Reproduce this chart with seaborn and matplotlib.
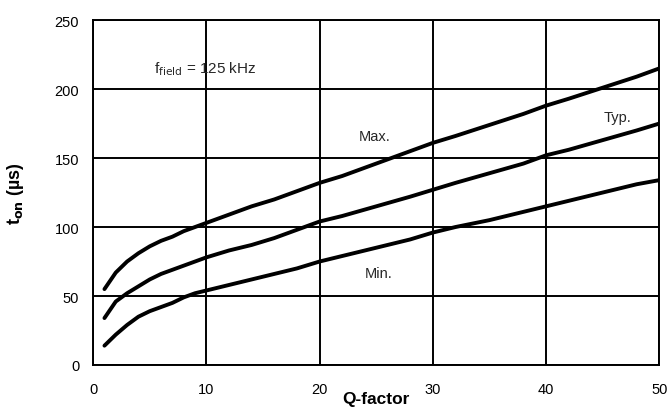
import pandas as pd
import matplotlib.pyplot as plt
import seaborn as sns

# Values
q_factor = [1, 2, 3, 4, 5, 6, 7, 8, 9, 10, 12, 14, 16, 18, 20, 22, 25, 28,
            30, 32, 35, 38, 40, 42, 45, 48, 50]
t_max = [55, 67, 75, 81, 86, 90, 93, 97, 100, 103, 109, 115, 120, 126, 132,
         137, 146, 155, 161, 166, 174, 182, 188, 193, 201, 209, 215]
t_typ = [34, 46, 52, 57, 62, 66, 69, 72, 75, 78, 83, 87, 92, 98, 104, 108,
         115, 122, 127, 132, 139, 146, 152, 156, 163, 170, 175]
t_min = [14, 22, 29, 35, 39, 42, 45, 49, 52, 54, 58, 62, 66, 70, 75, 79, 85,
         91, 96, 100, 105, 111, 115, 119, 125, 131, 134]

x_ticks = [0, 10, 20, 30, 40, 50]
y_ticks = [0, 50, 100, 150, 200, 250]

df = pd.DataFrame({
    "Q": q_factor * 3,
    "t_on": t_max + t_typ + t_min,
    "curve": ["Max."] * len(q_factor) + ["Typ."] * len(q_factor) + ["Min."] * len(q_factor),
})

sns.set_style("white")
plt.rcParams["font.family"] = ["Liberation Sans", "DejaVu Sans"]

fig = plt.figure(figsize=(6.7, 4.14), dpi=100)
ax = fig.add_axes([0.139, 0.116, 0.845, 0.833])

sns.lineplot(data=df, x="Q", y="t_on", units="curve", estimator=None,
             color="black", linewidth=2.8, solid_capstyle="round", ax=ax)

ax.set_xlim(0, 50)
ax.set_ylim(0, 250)
ax.set_xticks(x_ticks)
ax.set_yticks(y_ticks)
ax.grid(True, color="black", linewidth=1.4)
for s in ax.spines.values():
    s.set_color("black")
    s.set_linewidth(1.4)
ax.tick_params(axis="both", direction="out", length=4, width=1.2,
               color="black", labelcolor="black", labelsize=10.5, pad=2)
ax.tick_params(axis="x", pad=8)
ax.tick_params(axis="y", pad=6)

ax.set_xlabel("Q-factor", fontsize=12.5, fontweight="bold", color="black")
ax.set_ylabel(r"t$_{\mathbf{on}}$ (µs)", fontsize=13, fontweight="bold", color="black")
ax.xaxis.set_label_coords(0.5, -0.075)
ax.yaxis.set_label_coords(-0.118, 0.5)

ax.text(24.9, 166, "Max.", fontsize=10.5, ha="center", va="center")
ax.text(46.3, 180, "Typ.", fontsize=10.5, ha="center", va="center")
ax.text(25.2, 67, "Min.", fontsize=10.5, ha="center", va="center")
ax.text(5.4, 215, r"f$_{\mathrm{field}}$ = 125 kHz", fontsize=11, ha="left", va="center")

if ax.get_legend() is not None:
    ax.get_legend().remove()

fig.savefig("out.png", dpi=100)
plt.close(fig)
